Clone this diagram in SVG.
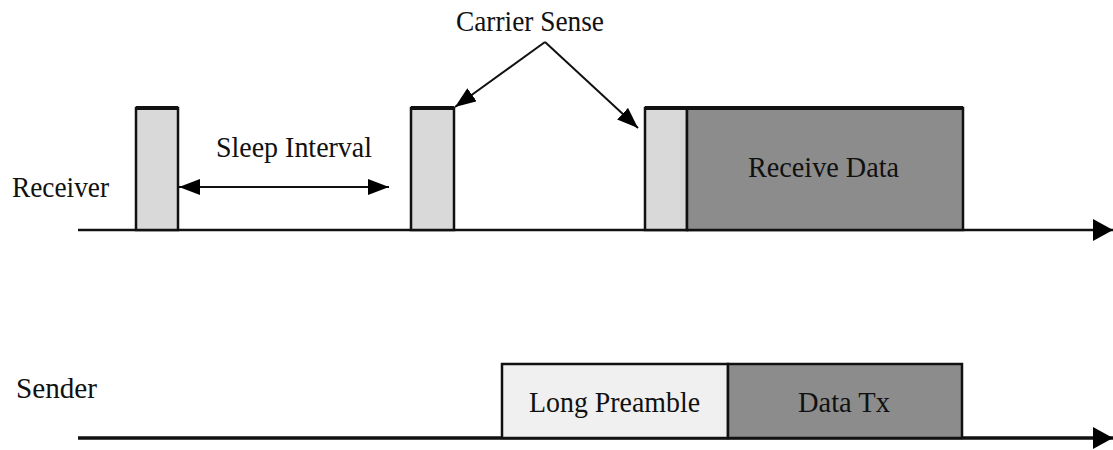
<svg xmlns="http://www.w3.org/2000/svg" width="1113" height="450" viewBox="0 0 1113 450">
  <style>
    .lbl { font-family: "Liberation Serif", "DejaVu Serif", "Times New Roman", Times, serif; font-size: 30px; fill: #111; }
    .cs { fill: #d9d9d9; stroke: #111; stroke-width: 2.5; }
    .dark { fill: #8c8c8c; stroke: #111; stroke-width: 2.5; }
    .pre { fill: #f0f0f0; stroke: #111; stroke-width: 2.5; }
    .top { stroke: #111; stroke-width: 4; }
    .ln { stroke: #111; fill: none; }
  </style>
  <defs>
    <marker id="head" markerUnits="userSpaceOnUse" markerWidth="22" markerHeight="18" refX="21" refY="8" orient="auto-start-reverse">
      <path d="M0,0 L21,8 L0,16 Z" fill="#000"/>
    </marker>
    <marker id="axisHead" markerUnits="userSpaceOnUse" markerWidth="22" markerHeight="24" refX="20" refY="11" orient="auto">
      <path d="M0,0 L20,11 L0,22 Z" fill="#000"/>
    </marker>
  </defs>

  <rect width="1113" height="450" fill="#fff"/>

  <!-- time axes -->
  <g id="axes">
    <line class="ln" x1="78" y1="230" x2="1113" y2="230" stroke-width="2.5" marker-end="url(#axisHead)"/>
    <line class="ln" x1="78" y1="438" x2="1113" y2="438" stroke-width="3.5" marker-end="url(#axisHead)"/>
  </g>

  <!-- row labels -->
  <text class="lbl" x="12" y="197" textLength="97" lengthAdjust="spacingAndGlyphs">Receiver</text>
  <text class="lbl" x="16" y="398" textLength="81" lengthAdjust="spacingAndGlyphs">Sender</text>

  <!-- receiver wake-ups -->
  <g id="cs1">
    <rect class="cs" x="136" y="108" width="42" height="122"/>
    <line class="top" x1="136" y1="108" x2="178" y2="108"/>
  </g>
  <g id="cs2">
    <rect class="cs" x="411" y="108" width="43" height="122"/>
    <line class="top" x1="411" y1="108" x2="454" y2="108"/>
  </g>
  <g id="cs3">
    <rect class="cs" x="645" y="108" width="42" height="122"/>
  </g>
  <g id="receive-data">
    <rect class="dark" x="687" y="108" width="276" height="122"/>
    <line class="top" x1="645" y1="108" x2="963" y2="108"/>
    <text class="lbl" x="748" y="177" textLength="151" lengthAdjust="spacingAndGlyphs">Receive Data</text>
  </g>

  <!-- sender transmission -->
  <g id="long-preamble">
    <rect class="pre" x="502" y="364" width="226" height="74"/>
    <text class="lbl" x="529" y="412" textLength="171" lengthAdjust="spacingAndGlyphs">Long Preamble</text>
  </g>
  <g id="data-tx">
    <rect class="dark" x="728" y="364" width="234" height="74"/>
    <text class="lbl" x="798" y="412" textLength="92" lengthAdjust="spacingAndGlyphs">Data Tx</text>
  </g>

  <!-- annotations -->
  <g id="sleep-interval">
    <text class="lbl" x="216" y="157" textLength="156" lengthAdjust="spacingAndGlyphs">Sleep Interval</text>
  </g>
  <g id="carrier-sense">
    <text class="lbl" x="456" y="31" textLength="148" lengthAdjust="spacingAndGlyphs">Carrier Sense</text>
  </g>

  <g id="connectors">
    <line class="ln" x1="179" y1="187" x2="389" y2="187" stroke-width="2" marker-start="url(#head)" marker-end="url(#head)"/>
    <line class="ln" x1="545" y1="42" x2="455" y2="107" stroke-width="2" marker-end="url(#head)"/>
    <line class="ln" x1="545" y1="42" x2="638" y2="128" stroke-width="2" marker-end="url(#head)"/>
  </g>
</svg>
